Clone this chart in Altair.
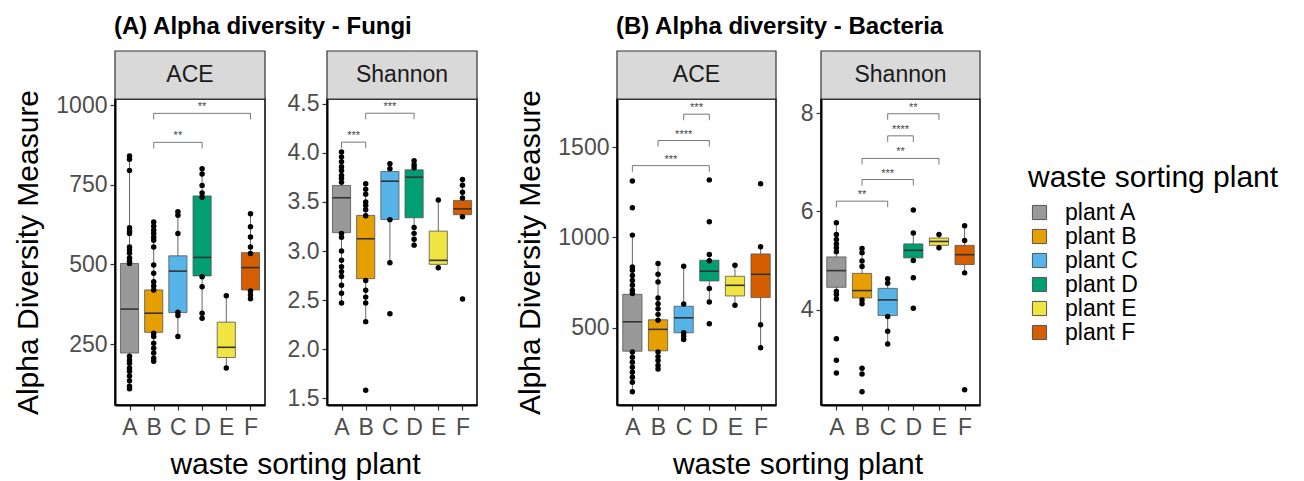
import altair as alt
import pandas as pd

FONT = "Liberation Sans"

letters = ["A", "B", "C", "D", "E", "F"]
plants = ["plant A", "plant B", "plant C", "plant D", "plant E", "plant F"]
colors = ["#999999", "#E69F00", "#56B4E9", "#009E73", "#F0E442", "#D55E00"]

# ---------------- (A) Fungi - ACE ----------------
fa_lo = [107, 196, 274, 331, 175, 392]
fa_q1 = [222, 287, 349, 464, 208, 420]
fa_med = [360, 347, 479, 522, 240, 490]
fa_q3 = [503, 420, 527, 715, 319, 537]
fa_hi = [840, 633, 670, 805, 402, 659]
fa_pts = {
    "A": [840, 830, 795, 615, 605, 597, 555, 545, 535, 520, 510, 503, 212, 200, 190, 175, 165, 150, 135, 118, 110],
    "B": [633, 620, 607, 597, 585, 576, 555, 498, 472, 446, 432, 420, 284, 274, 253, 237, 222, 206, 196],
    "C": [665, 654, 597, 350, 340, 274],
    "D": [800, 784, 748, 724, 711, 461, 430, 347, 331],
    "E": [402, 175],
    "F": [659, 618, 586, 555, 534, 417, 404, 392],
}
fa_br_from = ["B", "B"]
fa_br_to = ["D", "F"]
fa_br_y = [883, 974]
fa_br_lab = ["**", "**"]
fa_domain = [59, 1019]
fa_ticks = [250, 500, 750, 1000]

# ---------------- (A) Fungi - Shannon ----------------
fs_lo = [2.47, 2.284, 2.88, 3.06, 2.83, 3.35]
fs_q1 = [3.187, 2.718, 3.322, 3.339, 2.864, 3.37]
fs_med = [3.543, 3.125, 3.712, 3.753, 2.905, 3.43]
fs_q3 = [3.668, 3.363, 3.811, 3.828, 3.203, 3.516]
fs_hi = [4.008, 3.685, 3.89, 3.92, 3.516, 3.73]
fs_pts = {
    "A": [4.01, 3.96, 3.91, 3.86, 3.82, 3.77, 3.74, 3.70, 3.18, 3.14, 3.0, 2.905, 2.84, 2.79, 2.74, 2.65, 2.57, 2.47],
    "B": [3.685, 3.63, 3.58, 3.50, 3.465, 3.42, 3.36, 2.70, 2.60, 2.53, 2.47, 2.28, 1.58],
    "C": [3.89, 3.84, 3.32, 2.88, 2.36],
    "D": [3.92, 3.88, 3.85, 3.24, 3.18, 3.12, 3.06],
    "E": [3.52, 2.83],
    "F": [3.73, 3.67, 3.60, 3.54, 3.35, 2.51],
}
fs_br_from = ["A", "B"]
fs_br_to = ["B", "D"]
fs_br_y = [4.11, 4.405]
fs_br_lab = ["***", "***"]
fs_domain = [1.43, 4.55]
fs_ticks = [1.5, 2.0, 2.5, 3.0, 3.5, 4.0, 4.5]

# ---------------- (B) Bacteria - ACE ----------------
ba_lo = [146, 272, 435, 643, 624, 389]
ba_q1 = [370, 372, 472, 759, 676, 667]
ba_med = [533, 491, 555, 813, 735, 796]
ba_q3 = [685, 544, 619, 874, 785, 909]
ba_hi = [1013, 856, 841, 906, 846, 948]
ba_pts = {
    "A": [1313, 1165, 1013, 837, 818, 790, 762, 735, 707, 690, 365, 337, 309, 281, 254, 226, 198, 146],
    "B": [856, 796, 754, 665, 633, 605, 574, 541, 365, 340, 318, 291, 272],
    "C": [841, 631, 472, 454, 435],
    "D": [1319, 1087, 906, 871, 717, 643, 522],
    "E": [846, 624],
    "F": [1298, 948, 517, 389],
}
ba_br_from = ["A", "B", "C"]
ba_br_to = ["D", "D", "D"]
ba_br_y = [1398, 1537, 1683]
ba_br_lab = ["***", "****", "***"]
ba_domain = [72, 1767]
ba_ticks = [500, 1000, 1500]

# ---------------- (B) Bacteria - Shannon ----------------
bs_lo = [4.22, 4.12, 3.30, 5.0, 5.26, 4.75]
bs_q1 = [4.456, 4.24, 3.88, 5.055, 5.31, 4.92]
bs_med = [4.796, 4.39, 4.20, 5.21, 5.39, 5.12]
bs_q3 = [5.075, 4.74, 4.435, 5.34, 5.46, 5.31]
bs_hi = [5.77, 5.245, 4.63, 5.565, 5.53, 5.71]
bs_pts = {
    "A": [5.77, 5.53, 5.43, 5.34, 5.26, 5.18, 4.37, 4.31, 4.22, 3.41, 2.97, 2.71],
    "B": [5.245, 5.16, 4.99, 4.88, 4.20, 4.12, 2.81, 2.69, 2.33],
    "C": [4.63, 4.54, 3.86, 3.56, 3.30],
    "D": [6.03, 5.56, 5.0, 4.65, 4.03],
    "E": [5.53, 5.26],
    "F": [5.71, 5.41, 4.75, 2.37],
}
bs_br_from = ["A", "B", "B", "C", "C"]
bs_br_to = ["C", "D", "E", "D", "E"]
bs_br_y = [6.21, 6.65, 7.08, 7.54, 7.99]
bs_br_lab = ["**", "***", "**", "****", "**"]
bs_domain = [2.06, 8.29]
bs_ticks = [4, 6, 8]

HALF = 0.375
idx = {l: i + 1 for i, l in enumerate(letters)}
label_expr = "[" + ",".join("'%s'" % l for l in letters) + "][datum.value-1]"

legend = alt.Legend(
    title="waste sorting plant", orient="none", legendX=913, legendY=64,
    titleFontSize=30, titleFontWeight="normal", titleColor="black", titleFont=FONT,
    titleLimit=500, labelLimit=300,
    labelFontSize=23, labelColor="black", labelFont=FONT,
    symbolType="square", symbolSize=200, symbolStrokeColor="#555", symbolStrokeWidth=1,
    symbolOpacity=1, rowPadding=0, titlePadding=8, labelOffset=14,
)
color_scale = alt.Scale(domain=plants, range=colors)


def panel(strip, lo, q1, med, q3, hi, pts, bf, bt, by, blab, domain, ticks, pw, cw, height,
          fmt, ytitle=None, group_title=None, xtitle_x=None):
    stats = pd.DataFrame({"xi": list(range(1, 7)), "plant": plants,
                          "lo": lo, "q1": q1, "med": med, "q3": q3, "hi": hi})
    stats["xl"] = stats["xi"] - HALF
    stats["xr"] = stats["xi"] + HALF
    rows = []
    for l in letters:
        for v in pts[l]:
            rows.append({"xi": idx[l], "v": v})
    pdf = pd.DataFrame(rows)
    tip = (domain[1] - domain[0]) * 0.02
    bdf = pd.DataFrame({
        "x1": [idx[a] for a in bf], "x2": [idx[b] for b in bt], "y": by,
        "yt": [y - tip for y in by], "lab": blab,
    })
    bdf["xm"] = (bdf["x1"] + bdf["x2"]) / 2

    xs = alt.Scale(domain=[0.4, 6.6], range=[0, pw], nice=False, zero=False)
    ys = alt.Scale(domain=domain, nice=False, zero=False)
    xax = alt.Axis(values=list(range(1, 7)), labelExpr=label_expr, grid=False,
                   labelFontSize=23, labelColor="#4d4d4d", labelFont=FONT,
                   tickSize=5, tickColor="#333333", tickWidth=1.2, labelPadding=6,
                   domainColor="black", domainWidth=2, title=None)
    yargs = dict(values=ticks, grid=False, format=fmt,
                 labelFontSize=23, labelColor="#4d4d4d", labelFont=FONT,
                 tickSize=5, tickColor="#333333", tickWidth=1.2, labelPadding=3,
                 domainColor="black", domainWidth=2)
    if ytitle:
        yax = alt.Axis(title=ytitle, titleFontSize=30, titleFontWeight="normal",
                       titleColor="black", titleFont=FONT, titlePadding=12, **yargs)
    else:
        yax = alt.Axis(title=None, **yargs)

    def X(f):
        return alt.X(f, scale=xs, axis=xax)

    def Y(f):
        return alt.Y(f, scale=ys, axis=yax)

    whisk = alt.Chart(stats).mark_rule(color="#555555", strokeWidth=0.9).encode(
        x=X("xi:Q"), y=Y("lo:Q"), y2="hi:Q")
    box = alt.Chart(stats).mark_rect(stroke="#555555", strokeWidth=0.8).encode(
        x=X("xl:Q"), x2="xr:Q", y=Y("q1:Q"), y2="q3:Q",
        color=alt.Color("plant:N", scale=color_scale, legend=legend))
    medl = alt.Chart(stats).mark_rule(color="#333333", strokeWidth=1.6).encode(
        x=X("xl:Q"), x2="xr:Q", y=Y("med:Q"))
    dots = alt.Chart(pdf).mark_circle(size=30, color="black", opacity=1).encode(
        x=X("xi:Q"), y=Y("v:Q"))
    bh = alt.Chart(bdf).mark_rule(color="#555555", strokeWidth=0.8).encode(
        x=X("x1:Q"), x2="x2:Q", y=Y("y:Q"))
    bl = alt.Chart(bdf).mark_rule(color="#555555", strokeWidth=0.8).encode(
        x=X("x1:Q"), y=Y("y:Q"), y2="yt:Q")
    br = alt.Chart(bdf).mark_rule(color="#555555", strokeWidth=0.8).encode(
        x=X("x2:Q"), y=Y("y:Q"), y2="yt:Q")
    bt_ = alt.Chart(bdf).mark_text(fontSize=11, color="#444444", baseline="bottom",
                                   dy=-1, font=FONT).encode(
        x=X("xm:Q"), y=Y("y:Q"), text="lab:N")
    sdf = pd.DataFrame({"t": [strip]})
    border = alt.Chart(sdf).mark_rect(fill="transparent", stroke="black", strokeWidth=1.5).encode(
        x=alt.value(0), x2=alt.value(pw), y=alt.value(0), y2=alt.value(height))
    srect = alt.Chart(sdf).mark_rect(fill="#d9d9d9", stroke="#333333", strokeWidth=1.2).encode(
        x=alt.value(0), x2=alt.value(pw), y=alt.value(-48), y2=alt.value(0))
    stext = alt.Chart(sdf).mark_text(fontSize=23, color="#1a1a1a", baseline="middle",
                                     font=FONT).encode(
        x=alt.value(pw / 2), y=alt.value(-24), text="t:N")
    layers = [whisk, box, medl, dots, bh, bl, br, bt_, border, srect, stext]
    if group_title:
        gdf = pd.DataFrame({"t": [group_title]})
        layers.append(alt.Chart(gdf).mark_text(fontSize=24, fontWeight="bold", color="black",
                                               align="left", baseline="alphabetic",
                                               font=FONT).encode(
            x=alt.value(-1), y=alt.value(-65), text="t:N"))
    if xtitle_x is not None:
        xdf = pd.DataFrame({"t": ["waste sorting plant"]})
        layers.append(alt.Chart(xdf).mark_text(fontSize=30, color="black", align="center",
                                               baseline="alphabetic", font=FONT).encode(
            x=alt.value(xtitle_x), y=alt.value(height + 69), text="t:N"))
    return alt.layer(*layers).properties(
        width=cw, height=height,
        view=alt.ViewBackground(stroke="transparent", strokeOpacity=0, strokeWidth=0),
    )


H = 306
p1 = panel("ACE", fa_lo, fa_q1, fa_med, fa_q3, fa_hi, fa_pts, fa_br_from, fa_br_to, fa_br_y,
           fa_br_lab, fa_domain, fa_ticks, 150, 167, H, "d", ytitle="Alpha Diversity Measure",
           group_title="(A) Alpha diversity - Fungi", xtitle_x=180.5)
p2 = panel("Shannon", fs_lo, fs_q1, fs_med, fs_q3, fs_hi, fs_pts, fs_br_from, fs_br_to, fs_br_y,
           fs_br_lab, fs_domain, fs_ticks, 150, 245, H, ".1f")
p3 = panel("ACE", ba_lo, ba_q1, ba_med, ba_q3, ba_hi, ba_pts, ba_br_from, ba_br_to, ba_br_y,
           ba_br_lab, ba_domain, ba_ticks, 159, 159, H, "d", ytitle="Alpha Diversity Measure",
           group_title="(B) Alpha diversity - Bacteria", xtitle_x=181)
p4 = panel("Shannon", bs_lo, bs_q1, bs_med, bs_q3, bs_hi, bs_pts, bs_br_from, bs_br_to, bs_br_y,
           bs_br_lab, bs_domain, bs_ticks, 159, 159, H, "d")

chart = alt.hconcat(p1, p2, p3, p4, spacing=45, bounds="flush").properties(
    padding={"left": 5, "top": 7, "right": 5, "bottom": 0}
).configure_view(strokeWidth=0, strokeOpacity=0).configure(font=FONT)

chart.save("out.html", embed_options={"renderer": "svg", "actions": False})
